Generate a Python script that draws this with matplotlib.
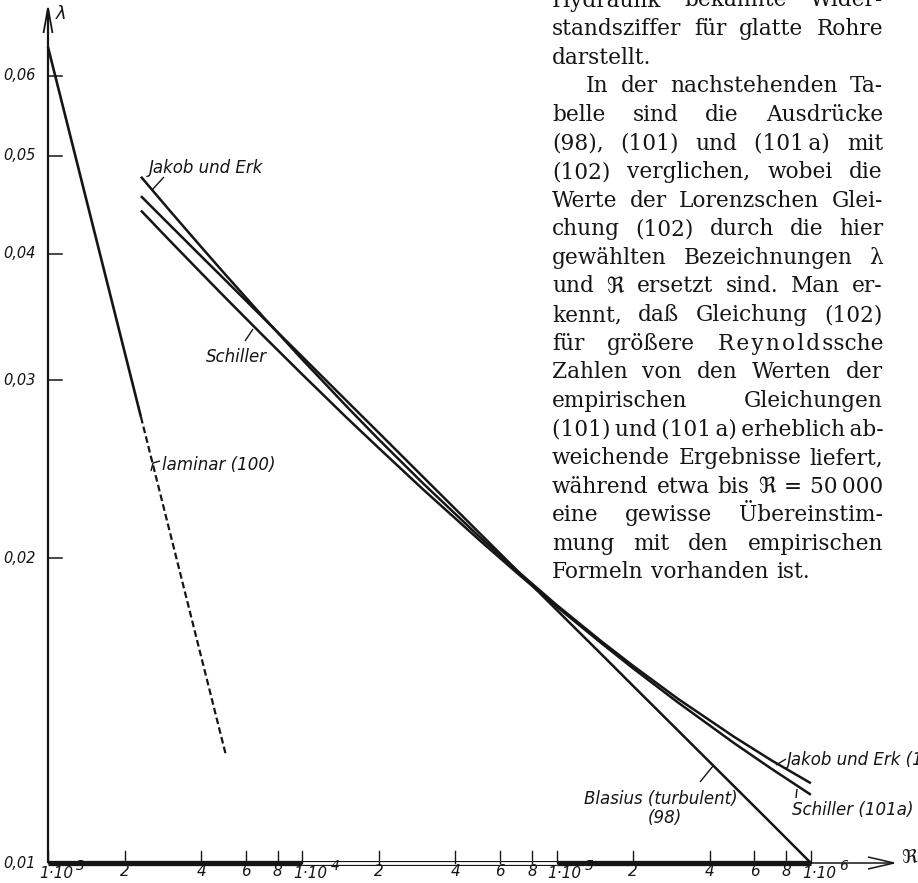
import matplotlib
matplotlib.use("Agg")
import matplotlib.pyplot as plt
import matplotlib.transforms as mtransforms
import numpy as np

# ── Data (Re, lambda) ────────────────────────────────────────────────────────
R_LAMINAR = [1000, 2320]
LAM_LAMINAR = [0.0640, 0.02759]
R_LAMINAR_DASHED = [2320, 5000]
LAM_LAMINAR_DASHED = [0.02759, 0.0128]

R_TURB = [2320, 3000, 4000, 5000, 7000, 1e4, 1.5e4, 2e4, 3e4, 5e4, 7e4,
          1e5, 1.5e5, 2e5, 3e5, 5e5, 7e5, 1e6]
LAM_BLASIUS = [0.04560, 0.04275, 0.03978, 0.03763, 0.03459, 0.03164, 0.02859,
               0.02661, 0.02404, 0.02116, 0.01945, 0.01779, 0.01608, 0.01496,
               0.01352, 0.01190, 0.01094, 0.01000]
LAM_JAKOB = [0.04766, 0.04417, 0.04063, 0.03811, 0.03467, 0.03144, 0.02823,
             0.02621, 0.02369, 0.02098, 0.01944, 0.01799, 0.01656, 0.01566,
             0.01453, 0.01332, 0.01263, 0.01199]
LAM_SCHILLER = [0.04413, 0.04125, 0.03829, 0.03616, 0.03321, 0.03039, 0.02752,
                0.02570, 0.02337, 0.02082, 0.01934, 0.01792, 0.01649, 0.01557,
                0.01441, 0.01313, 0.01239, 0.01168]

X_DECADES = [1e3, 1e4, 1e5]
X_MANTISSAS = [1, 2, 4, 6, 8]
X_EXPONENTS = ["3", "4", "5", "6"]
Y_TICKS = [0.01, 0.02, 0.03, 0.04, 0.05, 0.06]
Y_TICK_LABELS = ["0,01", "0,02", "0,03", "0,04", "0,05", "0,06"]

TEXT_LINES = [
    ("Hydraulik bekannte Wider-", "j"),
    ("standsziffer für glatte Rohre", "j"),
    ("darstellt.", "l"),
    ("In der nachstehenden Ta-", "i"),
    ("belle sind die Ausdrücke", "j"),
    ("(98), (101) und (101\u2009a) mit", "j"),
    ("(102) verglichen, wobei die", "j"),
    ("Werte der Lorenzschen Glei-", "j"),
    ("chung (102) durch die hier", "j"),
    ("gewählten Bezeichnungen λ", "j"),
    ("und ℜ ersetzt sind. Man er-", "j"),
    ("kennt, daß Gleichung (102)", "j"),
    ("für größere R\u200ae\u200ay\u200an\u200ao\u200al\u200ad\u200assche", "j"),
    ("Zahlen von den Werten der", "j"),
    ("empirischen Gleichungen", "j"),
    ("(101)\u2009und\u2009(101\u2009a)\u2009erheblich\u2009ab-", "j"),
    ("weichende Ergebnisse liefert,", "j"),
    ("während etwa bis ℜ = 50\u2009000", "j"),
    ("eine gewisse Übereinstim-", "j"),
    ("mung mit den empirischen", "j"),
    ("Formeln vorhanden ist.", "l"),
]

# ── Figure / pixel frame ─────────────────────────────────────────────────────
W, H = 918, 883
INK = "#151515"
X0, XDEC = 48, 254.3      # pixel of Re=1e3, pixels per decade
Y0, YDEC = 863, 1012      # pixel of lambda=0.01, pixels per decade

plt.rcParams.update({
    "font.family": "DejaVu Sans",
    "mathtext.default": "it",
})

fig = plt.figure(figsize=(W / 100, H / 100), dpi=100)
fig.patch.set_facecolor("white")

ax = fig.add_axes([X0 / W, (H - Y0) / H, 3 * XDEC / W, np.log10(7) * YDEC / H])
ax.set_xscale("log")
ax.set_yscale("log")
ax.set_xlim(1e3, 1e6)
ax.set_ylim(0.01, 0.07)
ax.axis("off")

# pixel coords measured from the top-left corner
PX = mtransforms.Affine2D().scale(1 / W, -1 / H).translate(0, 1) + fig.transFigure
X_PX = mtransforms.blended_transform_factory(ax.transData, PX)
PX_Y = mtransforms.blended_transform_factory(PX, ax.transData)
renderer = fig.canvas.get_renderer()


def px_line(xs, ys, lw=1.0):
    ax.plot(xs, ys, color=INK, lw=lw, transform=PX, clip_on=False,
            solid_capstyle="butt", solid_joinstyle="miter")


# ── Curves ───────────────────────────────────────────────────────────────────
kw = dict(color=INK, clip_on=False, solid_capstyle="butt")
ax.plot(R_LAMINAR, LAM_LAMINAR, lw=1.9, **kw)
ax.plot(R_LAMINAR_DASHED, LAM_LAMINAR_DASHED, lw=1.6, color=INK,
        ls=(0, (3.0, 1.5)), clip_on=False)
ax.plot(R_TURB, LAM_JAKOB, lw=1.8, **kw)
ax.plot(R_TURB, LAM_BLASIUS, lw=1.8, **kw)
ax.plot(R_TURB, LAM_SCHILLER, lw=1.8, **kw)

# ── Axes ─────────────────────────────────────────────────────────────────────
# y axis with open arrow
px_line([X0, X0], [Y0, 9], lw=1.6)
px_line([X0 - 4.5, X0, X0 + 4.5], [33, 8, 33], lw=1.3)
ax.text(56, 14, "λ", transform=PX, fontsize=13, style="italic",
        ha="left", va="center", color=INK)

# x axis: alternating decade bar + arrow
ax.plot([1e3, 1e4], [0.01, 0.01], lw=3.8, **kw)
ax.plot([1e4, 1e5], [0.01, 0.01], lw=3.6, **kw)
ax.plot([1e4, 1e5], [0.01, 0.01], lw=2.0, color="white",
        solid_capstyle="butt", clip_on=False)
ax.plot([1e5, 1e6], [0.01, 0.01], lw=3.8, **kw)
px_line([X0 + 3 * XDEC, 893], [Y0, Y0], lw=1.1)
px_line([868, 894, 868], [857, Y0, 869], lw=1.1)
ax.text(909, 857, "ℜ", transform=PX, fontsize=14, ha="center", va="center",
        color=INK)

# x ticks and labels
lab_kw = dict(style="italic", color=INK)
for dec, ex in zip(X_DECADES + [1e6], X_EXPONENTS):
    mants = X_MANTISSAS if dec < 1e6 else [1]
    for m in mants:
        v = m * dec
        ax.plot([v, v], [Y0, Y0 - 12], color=INK, lw=1.0,
                transform=X_PX, clip_on=False)
        if m == 1:
            tr = mtransforms.offset_copy(X_PX, fig=fig, x=-9, y=0, units="dots")
            base = ax.text(v, 878, "1·10", transform=tr, ha="left",
                           va="baseline", fontsize=11, **lab_kw)
            bw = base.get_window_extent(renderer).width
            tr2 = mtransforms.offset_copy(X_PX, fig=fig, x=-9 + bw + 3, y=0,
                                          units="dots")
            ax.text(v, 870, ex, transform=tr2, ha="left", va="baseline",
                    fontsize=10, **lab_kw)
        else:
            ax.text(v, 876, str(m), transform=X_PX, ha="center",
                    va="baseline", fontsize=11, **lab_kw)

# y ticks and labels
for v, lab in zip(Y_TICKS, Y_TICK_LABELS):
    if v > 0.01:
        ax.plot([X0, X0 + 14], [v, v], color=INK, lw=1.1,
                transform=PX_Y, clip_on=False)
    ax.text(36, v, lab, transform=PX_Y, ha="right", va="center",
            fontsize=10.5, **lab_kw)

# ── Curve labels with leader lines ───────────────────────────────────────────
cl = dict(transform=PX, style="italic", color=INK, fontsize=12,
          va="center", ha="left")
ax.text(149, 168, "Jakob und Erk", **cl)
px_line([152, 164], [190, 177], lw=1.0)
ax.text(206, 357, "Schiller", **cl)
px_line([245, 253], [341, 329], lw=1.0)
ax.text(162, 465, "laminar (100)", **cl)
px_line([151, 153, 160], [471, 463, 461], lw=1.0)
ax.text(787, 760, "Jakob und Erk (101)", **cl)
px_line([776, 786], [765, 759], lw=1.0)
ax.text(792, 810, "Schiller (101a)", **cl)
px_line([797, 796], [789, 798], lw=1.0)
ax.text(584, 799, "Blasius (turbulent)", **cl)
ax.text(665, 818, "(98)", **{**cl, "ha": "center"})
px_line([700, 713], [782, 766], lw=1.0)

# ── Justified text column ────────────────────────────────────────────────────
SERIF = ["DejaVu Serif", "DejaVu Sans"]
FS_TXT = 15.6
LEFT, RIGHT, INDENT = 552, 883, 586

for k, (line, mode) in enumerate(TEXT_LINES):
    yb = 6.5 + 28.6 * k
    x0 = INDENT if mode == "i" else LEFT
    words = line.split(" ")
    arts = [ax.text(0, yb, w, transform=PX, fontsize=FS_TXT, family=SERIF,
                    va="baseline", ha="left", color=INK, clip_on=False)
            for w in words]
    widths = [a.get_window_extent(renderer).width for a in arts]
    n = len(words)
    avail = RIGHT - x0
    min_gap = 5.0
    if n == 1 or mode == "l":
        gap = 0.34 * FS_TXT * 100 / 72
    else:
        if sum(widths) + min_gap * (n - 1) > avail:
            s = (avail - min_gap * (n - 1)) / sum(widths)
            for a in arts:
                a.set_fontsize(FS_TXT * s)
            widths = [a.get_window_extent(renderer).width for a in arts]
        gap = (avail - sum(widths)) / (n - 1)
    if n == 1 and mode != "l":
        s = avail / widths[0]
        arts[0].set_fontsize(FS_TXT * min(s, 1.0))
    x = x0
    for a, wd in zip(arts, widths):
        a.set_x(x)
        x += wd + gap

fig.savefig("out.png", dpi=100, facecolor="white")
